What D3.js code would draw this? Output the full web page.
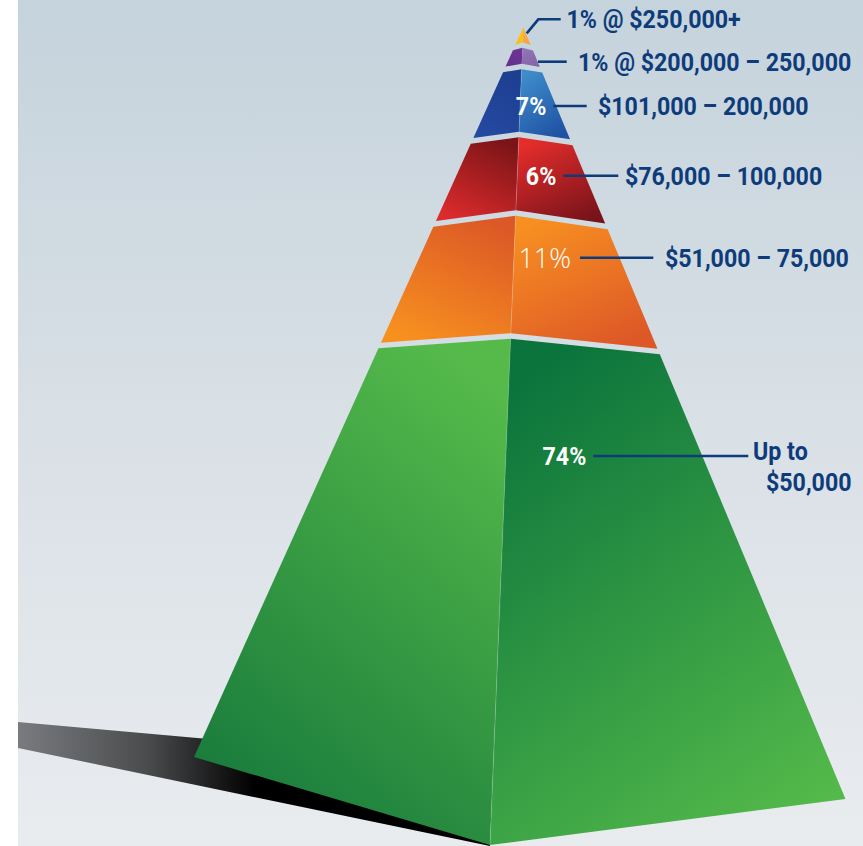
<!DOCTYPE html>
<html>
<head>
<meta charset="utf-8">
<script src="https://cdn.jsdelivr.net/npm/d3@7"></script>
<style>
  html, body { margin: 0; padding: 0; background: #fff; }
  svg { display: block; }
</style>
</head>
<body>
<div id="chart"></div>
<script>
// income brackets, top of the pyramid first
const brackets = ["$250,000+", "$200,000 – 250,000", "$101,000 – 200,000", "$76,000 – 100,000", "$51,000 – 75,000", "Up to $50,000"];
const shares = [1, 1, 7, 6, 11, 74]; // percent of households

// face colours, [top, bottom] of each face
const leftFace = [["#ffc60b", "#fbbd12"], ["#6d3695", "#652f8f"], ["#1d3f91", "#2449a1"], ["#7a1417", "#dc2b2c"], ["#dc5826", "#f7901f"], ["#55ba4a", "#187a3c"]];
const rightFace = [["#f9ae4c", "#f6a23f"], ["#9376b6", "#8264a9"], ["#3e8ccb", "#1f50a2"], ["#e52d2b", "#77131a"], ["#f78f21", "#dd5727"], ["#0b743c", "#53b94a"]];

const W = 863, H = 846;
const NAVY = "#0e3c7b";

const svg = d3.select("#chart").append("svg")
  .attr("width", W)
  .attr("height", H);

const defs = svg.append("defs");

const bg = defs.append("linearGradient").attr("id", "bg")
  .attr("x1", 0).attr("y1", 0).attr("x2", 0).attr("y2", 1);
bg.append("stop").attr("offset", 0).attr("stop-color", "#c5d3dc");
bg.append("stop").attr("offset", 0.5).attr("stop-color", "#d9e0e6");
bg.append("stop").attr("offset", 1).attr("stop-color", "#e9ecef");

const sh = defs.append("linearGradient").attr("id", "shadow")
  .attr("gradientUnits", "userSpaceOnUse")
  .attr("x1", 18).attr("y1", 0).attr("x2", 255).attr("y2", 0);
sh.append("stop").attr("offset", 0).attr("stop-color", "#7a7b7e");
sh.append("stop").attr("offset", 0.55).attr("stop-color", "#4a4b4d");
sh.append("stop").attr("offset", 1).attr("stop-color", "#000");

// one gradient per face
function faceGradient(id, cols, dir) {
  const g = defs.append("linearGradient").attr("id", id)
    .attr("x1", dir ? 0.25 : 0.75).attr("y1", 0)
    .attr("x2", dir ? 0.75 : 0.25).attr("y2", 1);
  g.append("stop").attr("offset", 0).attr("stop-color", cols[0]);
  g.append("stop").attr("offset", 1).attr("stop-color", cols[1]);
}
shares.forEach((d, i) => {
  faceGradient("L" + i, leftFace[i], false);
  faceGradient("R" + i, rightFace[i], true);
});

svg.append("rect")
  .attr("x", 18).attr("y", 0)
  .attr("width", W - 18).attr("height", H)
  .attr("fill", "url(#bg)");

// pyramid frame
const apex = [523.3, 27.3];
const baseL = [194, 757], baseC = [490, 845], baseR = [845.5, 799];
const edge = b => y => apex[0] + (y - apex[1]) * (b[0] - apex[0]) / (b[1] - apex[1]);
const xL = edge(baseL), xC = edge(baseC), xR = edge(baseR);

// shadow cast to the left
svg.append("path")
  .attr("d", d3.line()([[18, 722], [490, 764], [baseC[0], baseC[1] + 1], [18, 748]]) + "Z")
  .attr("fill", "url(#shadow)");

// cumulative share -> ridge height
const cum = [0, ...d3.cumsum(shares)];
const depth = d3.scaleLinear()
  .domain(cum)
  .range([apex[1], 45, 66.5, 134.5, 213, 336, baseC[1]]);

// the slice edges dip a little at the sides
const sagL = d3.scaleLinear().domain([0, 0.06, 0.23, 0.38]).range([2.3, 3, 11, 9.5]).clamp(true);
const sagR = d3.scaleLinear().domain([0, 0.06, 0.23, 0.38]).range([2.3, 3.5, 13.5, 15.5]).clamp(true);
const GAP = 5.5;

function ring(yr) {
  const t = (yr - apex[1]) / (baseC[1] - apex[1]);
  const yl = yr + sagL(t), yrr = yr + sagR(t);
  return { L: [xL(yl), yl], C: [xC(yr), yr], R: [xR(yrr), yrr] };
}

const n = shares.length;
const tiers = shares.map((s, i) => {
  const top = i === 0 ? { L: apex, C: apex, R: apex } : ring(depth(cum[i]) + GAP / 2);
  const bot = i === n - 1 ? { L: baseL, C: baseC, R: baseR } : ring(depth(cum[i + 1]) - GAP / 2);
  return { i, share: s, bracket: brackets[i], top, bot };
});

const line = d3.line();
const pyr = svg.append("g");

pyr.selectAll("path.left")
  .data(tiers)
  .join("path")
    .attr("class", "left")
    .attr("d", d => line([d.top.L, d.top.C, d.bot.C, d.bot.L]) + "Z")
    .attr("fill", d => `url(#L${d.i})`);

pyr.selectAll("path.right")
  .data(tiers)
  .join("path")
    .attr("class", "right")
    .attr("d", d => line([d.top.C, d.top.R, d.bot.R, d.bot.C]) + "Z")
    .attr("fill", d => `url(#R${d.i})`);

// faint highlight on the front ridge
pyr.selectAll("line.ridge")
  .data(tiers.slice(2))
  .join("line")
    .attr("x1", d => d.top.C[0]).attr("y1", d => d.top.C[1])
    .attr("x2", d => d.bot.C[0]).attr("y2", d => d.bot.C[1])
    .attr("stroke", "#fff")
    .attr("stroke-opacity", 0.25)
    .attr("stroke-width", 0.8);

// leader lines and labels
const leaders = [
  { pts: [[526.7, 33.3], [538.3, 19.3], [560.7, 19.3]], tx: 566.5 },
  { pts: [[538, 61.7], [566.7, 61.7]], tx: 578 },
  { pts: [[553.3, 106], [586.7, 106]], tx: 598 },
  { pts: [[563.3, 175.7], [618.3, 175.7]], tx: 625 },
  { pts: [[580, 257.7], [653.3, 257.7]], tx: 665 },
  { pts: [[593.3, 456], [748.3, 456]], tx: 753 }
];

const notes = svg.append("g");
notes.selectAll("path")
  .data(leaders)
  .join("path")
    .attr("d", d => line(d.pts))
    .attr("fill", "none")
    .attr("stroke", NAVY)
    .attr("stroke-width", 2.6);

const FONT = "Roboto, 'Liberation Sans', sans-serif";
const SX = 0.91;

tiers.forEach((d, i) => {
  const ld = leaders[i];
  const y = ld.pts[ld.pts.length - 1][1];
  let lines;
  if (i < 2) lines = [`${d.share}% @ ${d.bracket}`];
  else if (i === n - 1) lines = ["Up to", d.bracket.replace("Up to ", "")];
  else lines = [d.bracket];

  lines.forEach((txt, k) => {
    const multi = lines.length > 1;
    const bx = ld.tx + (multi && k === 1 ? 13 : 0);
    const by = multi ? y + 4 + k * 31 : y + 9;
    notes.append("text")
      .attr("transform", `translate(${bx},${by}) scale(${SX},1)`)
      .attr("font-family", FONT)
      .attr("font-weight", 700)
      .attr("font-size", 25.5)
      .attr("fill", NAVY)
      .text(txt);
  });

  if (i >= 2) {
    const thin = d.share === 11;
    notes.append("text")
      .attr("transform", `translate(${ld.pts[0][0] - (thin ? 9 : 7)},${ld.pts[0][1] + (thin ? 10 : 9)}) scale(${thin ? 1 : SX},1)`)
      .attr("text-anchor", "end")
      .attr("font-family", thin ? "'Open Sans', sans-serif" : FONT)
      .attr("font-weight", thin ? 300 : 700)
      .attr("font-size", thin ? 27 : 25.5)
      .attr("fill", "#fff")
      .text(`${d.share}%`);
  }
});
</script>
</body>
</html>
